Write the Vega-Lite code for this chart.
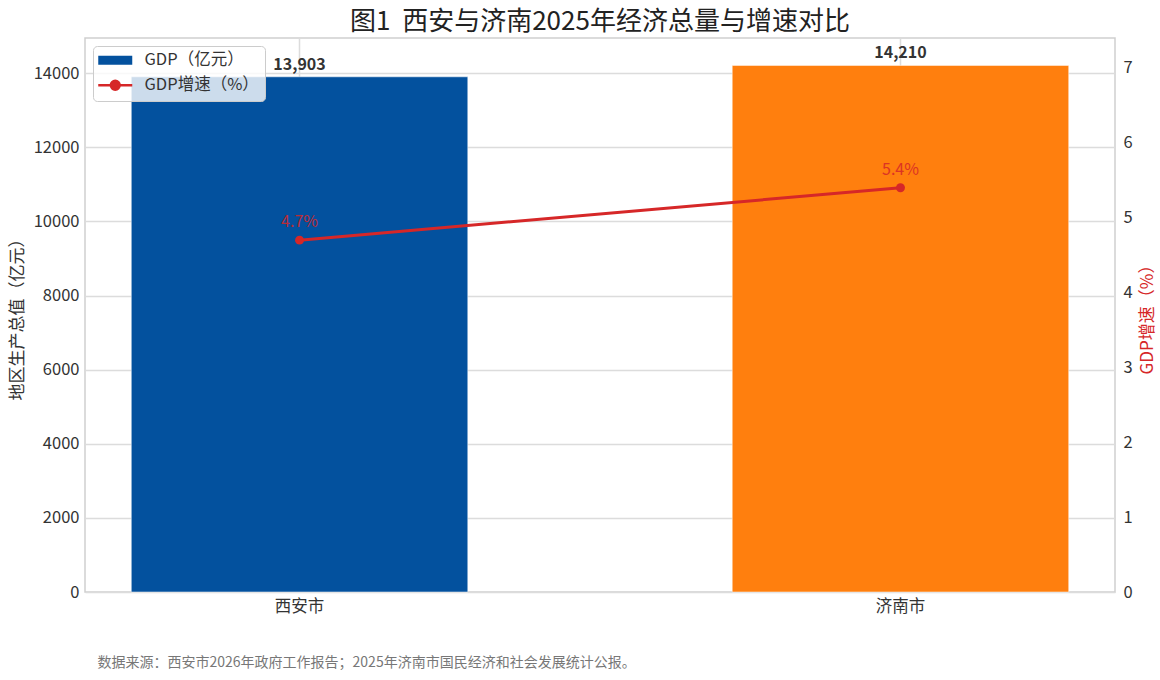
{
  "$schema": "https://vega.github.io/schema/vega-lite/v6.json",
  "autosize": {"type": "none"},
  "width": 1030,
  "height": 554,
  "padding": {"left": 85, "top": 38, "right": 45, "bottom": 88},
  "background": "white",
  "title": {
    "text": "图1\u00a0\u00a0西安与济南2025年经济总量与增速对比",
    "fontSize": 26,
    "fontWeight": "normal",
    "color": "#222",
    "anchor": "middle",
    "offset": 3
  },
  "config": {
    "font": "Noto Sans CJK SC",
    "view": {"stroke": "#cfcfcf", "strokeWidth": 1.5},
    "axis": {
      "labelFont": "Noto Sans CJK SC",
      "titleFont": "Noto Sans CJK SC",
      "labelFontSize": 16.5,
      "labelColor": "#333",
      "titleFontSize": 17,
      "titleFontWeight": "normal",
      "titleColor": "#333",
      "gridColor": "#dcdcdc",
      "gridWidth": 1.5,
      "ticks": false,
      "domain": false
    },
    "legend": {"labelFont": "Noto Sans CJK SC"}
  },
  "data": {
    "values": [
      {"city": "西安市", "gdp": 13903, "growth": 4.7, "label": "4.7%"},
      {"city": "济南市", "gdp": 14210, "growth": 5.4, "label": "5.4%"}
    ]
  },
  "encoding": {
    "x": {
      "field": "city",
      "type": "nominal",
      "sort": ["西安市", "济南市"],
      "scale": {"paddingInner": 0.44, "paddingOuter": 0.077},
      "axis": {
        "labelAngle": 0,
        "labelPadding": 6,
        "grid": true,
        "bandPosition": 0.5,
        "title": "数据来源：西安市2026年政府工作报告；2025年济南市国民经济和社会发展统计公报。",
        "titleFontSize": 14,
        "titleColor": "#777",
        "titleAnchor": "start",
        "titleAlign": "left",
        "titleBaseline": "top",
        "titleX": 12,
        "titleY": 63
      }
    }
  },
  "layer": [
    {
      "encoding": {
        "y": {
          "field": "gdp",
          "type": "quantitative",
          "scale": {"domain": [0, 14950], "nice": false},
          "axis": {
            "orient": "left",
            "values": [0, 2000, 4000, 6000, 8000, 10000, 12000, 14000],
            "format": "d",
            "labelPadding": 6,
            "title": "地区生产总值（亿元）",
            "titlePadding": 7
          }
        }
      },
      "layer": [
        {
          "mark": {"type": "bar", "stroke": "#ffffff", "strokeOpacity": 0.5, "strokeWidth": 1},
          "encoding": {
            "fill": {
              "field": "city",
              "type": "nominal",
              "scale": {"domain": ["西安市", "济南市"], "range": ["#03519e", "#ff7f0e"]},
              "legend": null
            }
          }
        },
        {
          "mark": {"type": "text", "baseline": "bottom", "dy": -4, "fontSize": 16, "fontWeight": "bold", "color": "#333"},
          "encoding": {
            "text": {"field": "gdp", "type": "quantitative", "format": ",d"}
          }
        }
      ]
    },
    {
      "encoding": {
        "y": {
          "field": "growth",
          "type": "quantitative",
          "scale": {"domain": [0, 7.4], "nice": false},
          "axis": {
            "orient": "right",
            "values": [0, 1, 2, 3, 4, 5, 6, 7],
            "labelPadding": 8,
            "title": "GDP增速（%）",
            "titleColor": "#d62728",
            "titleAngle": 270,
            "titlePadding": 24,
            "gridOpacity": 0.6,
            "zindex": 1
          }
        }
      },
      "layer": [
        {
          "mark": {"type": "line", "strokeWidth": 3, "point": {"size": 80, "filled": true}},
          "encoding": {
            "color": {
              "datum": "GDP增速（%）",
              "type": "nominal",
              "scale": {"domain": ["GDP（亿元）", "GDP增速（%）"], "range": ["#03519e", "#d62728"]},
              "legend": {
                "title": null,
                "orient": "top-left",
                "offset": 8,
                "fillColor": "rgba(255,255,255,0.8)",
                "strokeColor": "#cccccc",
                "cornerRadius": 4,
                "padding": 6,
                "rowPadding": 6,
                "labelFontSize": 16.5,
                "labelColor": "#333",
                "labelOffset": 21,
                "symbolOffset": 8,
                "symbolSize": 1156,
                "symbolOpacity": 1,
                "encode": {
                  "symbols": {
                    "update": {
                      "shape": {"signal": "datum.value === 'GDP（亿元）' ? 'M-1,-0.26H1V0.26H-1Z' : 'M-1,0H1M0.26,0A0.26,0.26,0,1,1,-0.26,0A0.26,0.26,0,1,1,0.26,0'"},
                      "fill": {"signal": "datum.value === 'GDP（亿元）' ? '#03519e' : '#d62728'"},
                      "stroke": {"signal": "datum.value === 'GDP（亿元）' ? '#03519e' : '#d62728'"},
                      "strokeWidth": {"signal": "datum.value === 'GDP（亿元）' ? 0 : 2.5"},
                      "opacity": {"value": 1}
                    }
                  }
                }
              }
            }
          }
        },
        {
          "mark": {"type": "text", "baseline": "bottom", "dy": -10, "fontSize": 16, "color": "#d62728", "opacity": 0.85},
          "encoding": {
            "text": {"field": "label", "type": "nominal"}
          }
        }
      ]
    }
  ],
  "resolve": {"scale": {"y": "independent"}}
}
